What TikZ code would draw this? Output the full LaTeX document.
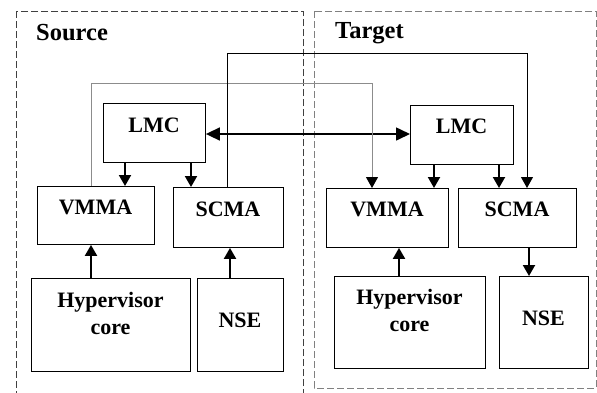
\documentclass[tikz,border=0pt]{standalone}
\usepackage{fontspec}
\setmainfont{Liberation Serif}
\usetikzlibrary{arrows.meta}
\begin{document}
\begin{tikzpicture}[x=1pt,y=-1pt,
  box/.style={draw=black,line width=0.9pt,inner sep=0pt,anchor=north west},
  lbl/.style={font=\bfseries\fontsize{22}{27}\selectfont,align=center,inner sep=0pt},
  ttl/.style={font=\bfseries\fontsize{24.5}{27}\selectfont,inner sep=0pt,anchor=west},
  arr/.style={line width=2pt,-{Triangle[width=12pt,length=11pt]}},
  farr/.style={line width=1pt,-{Triangle[width=12pt,length=11pt,color=black]}},
  darr/.style={line width=1.6pt,{Triangle[width=13pt,length=14pt]}-{Triangle[width=13pt,length=14pt]}},
  frame/.style={line width=0.9pt,dash pattern=on 7pt off 3pt}
]
\useasboundingbox (0,0) rectangle (597,392);
% frames
\draw[frame,draw=black!75] (16,11) rectangle (303,400);
\draw[frame,draw=black!50] (314,11) rectangle (596,388);
\node[ttl] (tsrc) at (36,33) {Source};
\node[ttl] (ttgt) at (335,33) {Target};
% source boxes
\node[box,minimum width=102pt,minimum height=59pt] (slmc) at (103,103) {};
\node[box,minimum width=117pt,minimum height=58pt] (svmma) at (37,186) {};
\node[box,minimum width=110pt,minimum height=60pt] (sscma) at (173,187) {};
\node[box,minimum width=159pt,minimum height=93pt] (shyp) at (31,278) {};
\node[box,minimum width=86pt,minimum height=93pt] (snse) at (197,278) {};
% target boxes
\node[box,minimum width=103pt,minimum height=59pt] (tlmc) at (410,105) {};
\node[box,minimum width=122pt,minimum height=59pt] (tvmma) at (326,188) {};
\node[box,minimum width=118pt,minimum height=59pt] (tscma) at (458,188) {};
\node[box,minimum width=151pt,minimum height=92pt] (thyp) at (334,276) {};
\node[box,minimum width=89pt,minimum height=92pt] (tnse) at (499,276) {};
% labels
\node[lbl] (lslmc) at (154,125) {LMC};
\node[lbl] (lsvmma) at (95.5,207) {VMMA};
\node[lbl] (lsscma) at (228,209) {SCMA};
\node[lbl] (lshyp) at (110.5,313.5) {Hypervisor\\core};
\node[lbl] (lsnse) at (240,320) {NSE};
\node[lbl] (ltlmc) at (461.5,126) {LMC};
\node[lbl] (ltvmma) at (387,209) {VMMA};
\node[lbl] (ltscma) at (517,209) {SCMA};
\node[lbl] (lthyp) at (409.5,310.5) {Hypervisor\\core};
\node[lbl] (ltnse) at (543.5,318) {NSE};
% column coordinates
\coordinate (c91) at (91,0);
\coordinate (c125) at (125,0);
\coordinate (c191) at (191,0);
\coordinate (c227) at (227,0);
\coordinate (c230) at (230,0);
\coordinate (c372) at (372,0);
\coordinate (c399) at (399,0);
\coordinate (c434) at (434,0);
\coordinate (c499) at (499,0);
\coordinate (c527) at (527,0);
\coordinate (c529) at (529,0);
\coordinate (r53) at (0,53);
\coordinate (r83) at (0,83);
\coordinate (r134) at (0,134);
% source arrows
\draw[arr] (slmc.south -| c125) -- (svmma.north -| c125);
\draw[arr] (slmc.south -| c191) -- (sscma.north -| c191);
\draw[arr] (shyp.north -| c91) -- (svmma.south -| c91);
\draw[arr] (snse.north -| c230) -- (sscma.south -| c230);
% target arrows
\draw[arr] (tlmc.south -| c434) -- (tvmma.north -| c434);
\draw[arr] (tlmc.south -| c499) -- (tscma.north -| c499);
\draw[arr] (thyp.north -| c399) -- (tvmma.south -| c399);
\draw[arr] (tscma.south -| c529) -- (tnse.north -| c529);
% LMC to LMC
\draw[darr] (slmc.east |- r134) -- (tlmc.west |- r134);
% long connectors
\draw[farr,draw=black!45] (svmma.north -| c91) -- (c91 |- r83) -| (tvmma.north -| c372);
\draw[farr] (sscma.north -| c227) -- (c227 |- r53) -| (tscma.north -| c527);
\end{tikzpicture}
\end{document}
